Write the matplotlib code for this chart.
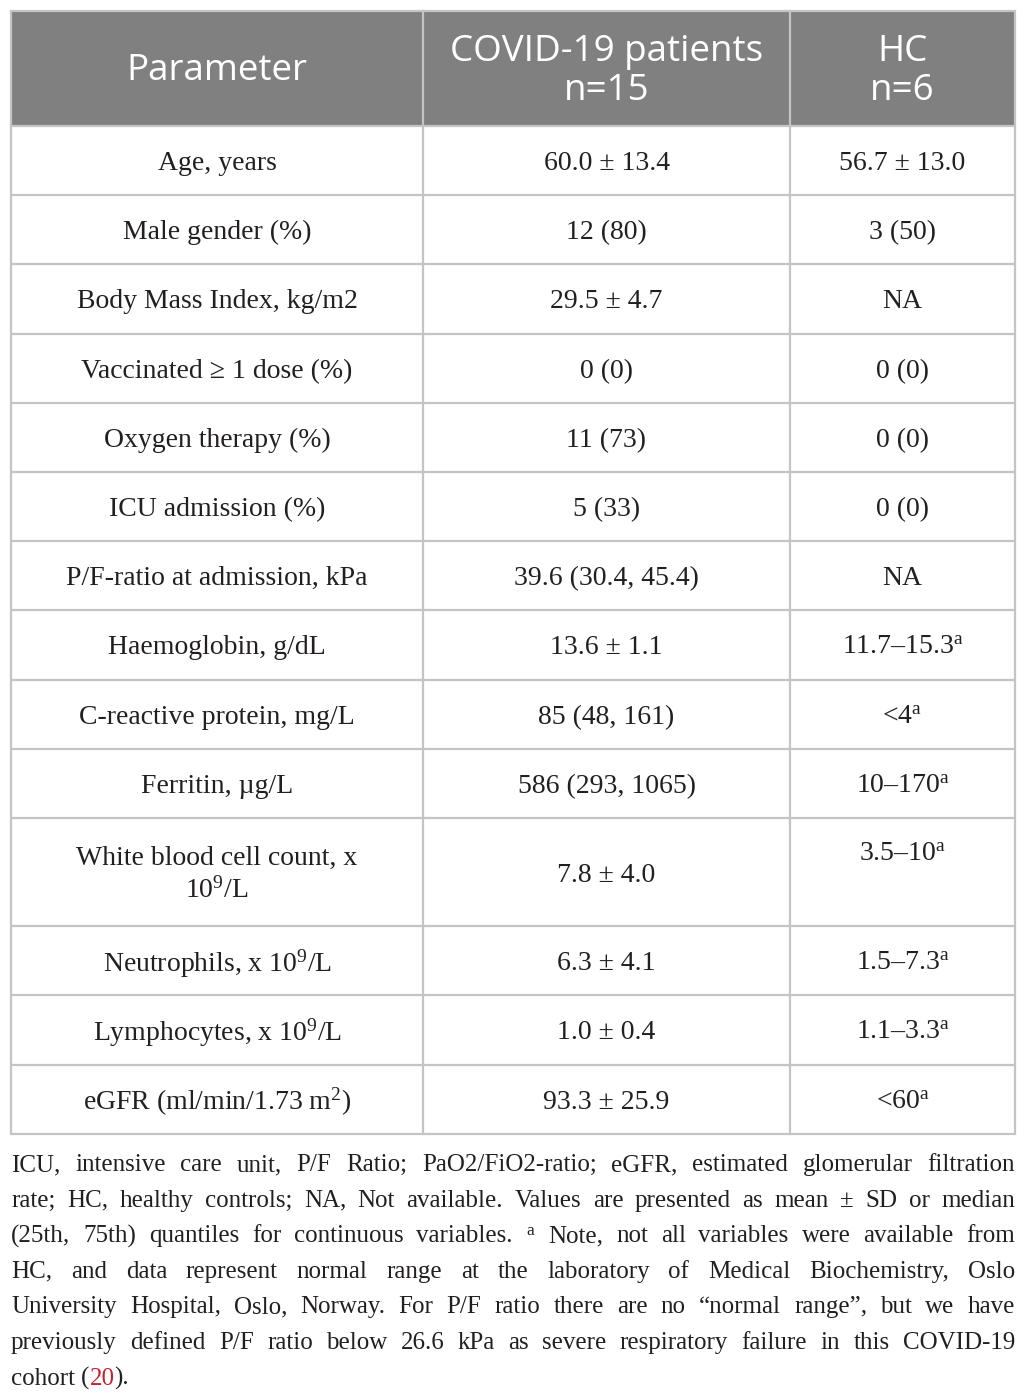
import matplotlib
matplotlib.use("Agg")
import matplotlib.pyplot as plt
from matplotlib.patches import Rectangle

plt.rcParams['mathtext.fontset'] = 'custom'
plt.rcParams['mathtext.rm'] = 'Liberation Serif'
plt.rcParams['mathtext.it'] = 'Liberation Serif:italic'

# table content
header = ["Parameter", "COVID-19 patients\nn=15", "HC\nn=6"]
parameters = [
    "Age, years", "Male gender (%)", "Body Mass Index, kg/m2",
    "Vaccinated ≥ 1 dose (%)", "Oxygen therapy (%)", "ICU admission (%)",
    "P/F-ratio at admission, kPa", "Haemoglobin, g/dL",
    "C-reactive protein, mg/L", "Ferritin, µg/L",
    "White blood cell count, x\n10$^{9}$/L", "Neutrophils, x 10$^{9}$/L",
    "Lymphocytes, x 10$^{9}$/L", "eGFR (ml/min/1.73 m$^{2}$)",
]
covid = [
    "60.0 ± 13.4", "12 (80)", "29.5 ± 4.7", "0 (0)", "11 (73)", "5 (33)",
    "39.6 (30.4, 45.4)", "13.6 ± 1.1", "85 (48, 161)", "586 (293, 1065)",
    "7.8 ± 4.0", "6.3 ± 4.1", "1.0 ± 0.4", "93.3 ± 25.9",
]
hc = [
    "56.7 ± 13.0", "3 (50)", "NA", "0 (0)", "0 (0)", "0 (0)", "NA",
    "11.7–15.3$^{\\mathrm{a}}$", "<4$^{\\mathrm{a}}$", "10–170$^{\\mathrm{a}}$",
    "3.5–10$^{\\mathrm{a}}$", "1.5–7.3$^{\\mathrm{a}}$", "1.1–3.3$^{\\mathrm{a}}$",
    "<60$^{\\mathrm{a}}$",
]
footnote_lines = [
    "ICU, intensive care unit, P/F Ratio; PaO2/FiO2-ratio; eGFR, estimated glomerular filtration",
    "rate; HC, healthy controls; NA, Not available. Values are presented as mean ± SD or median",
    "(25th, 75th) quantiles for continuous variables. $^{\\mathrm{a}}$ Note, not all variables were available from",
    "HC, and data represent normal range at the laboratory of Medical Biochemistry, Oslo",
    "University Hospital, Oslo, Norway. For P/F ratio there are no “normal range”, but we have",
    "previously defined P/F ratio below 26.6 kPa as severe respiratory failure in this COVID-19",
    "cohort (20).",
]

W, H = 1026, 1398
fig = plt.figure(figsize=(W / 100, H / 100), dpi=100)
ax = fig.add_axes([0, 0, 1, 1])
ax.set_xlim(0, W)
ax.set_ylim(H, 0)
ax.axis('off')

left, right = 11, 1015
col_x = [left, 423, 790, right]
row_h = [115] + [69.2] * 10 + [108] + [69.33] * 3
edges = [11]
for h in row_h:
    edges.append(edges[-1] + h)

grid_col = '#c4c4c4'
text_col = '#231f20'
serif = 'Liberation Serif'

# header
ax.add_patch(Rectangle((left, edges[0]), right - left, row_h[0], color='#808080', lw=0))
for j, txt in enumerate(header):
    cx = (col_x[j] + col_x[j + 1]) / 2
    ax.text(cx, edges[0] + row_h[0] / 2 + 3, txt, ha='center', va='center', color='white',
            fontsize=26.5, family='Open Sans', linespacing=1.12, ma='center')

# body rows
for i in range(len(parameters)):
    top, bot = edges[i + 1], edges[i + 2]
    cy = (top + bot) / 2 + 3
    cells = [parameters[i], covid[i], hc[i]]
    for j, txt in enumerate(cells):
        cx = (col_x[j] + col_x[j + 1]) / 2
        y = cy
        if i == 10 and j == 2:
            y = top + 36
        ax.text(cx, y, txt, ha='center', va='center', color=text_col,
                fontsize=20, family=serif, linespacing=1.3)

# grid lines
for y in edges[1:-1]:
    ax.plot([left, right], [y, y], color=grid_col, lw=1.6, solid_capstyle='butt')
for x in col_x[1:-1]:
    ax.plot([x, x], [edges[0], edges[-1]], color=grid_col, lw=1.6)
ax.add_patch(Rectangle((left, edges[0]), right - left, edges[-1] - edges[0],
                       fill=False, ec=grid_col, lw=1.6))

# footnote, justified
renderer = fig.canvas.get_renderer()


def width_of(s, size):
    t = ax.text(0, 0, s, fontsize=size, family=serif)
    w = t.get_window_extent(renderer).width
    t.remove()
    return w


fsize = 18
while True:
    widest = max(width_of(l, fsize) for l in footnote_lines)
    if widest <= (right - left) - 4:
        break
    fsize -= 0.25

base0, step = 1171, 35.6
for k, line in enumerate(footnote_lines):
    y = base0 + k * step
    words = line.split(' ')
    widths = [width_of(w, fsize) for w in words]
    if k == len(footnote_lines) - 1:
        gap = width_of('a b', fsize) - width_of('ab', fsize)
    else:
        gap = ((right - left) - sum(widths)) / (len(words) - 1)
    x = left
    for w, wd in zip(words, widths):
        if w == '(20).':
            parts = [('(', text_col), ('20', '#c8202f'), (').', text_col)]
            px = x
            for p, c in parts:
                ax.text(px, y, p, fontsize=fsize, family=serif, color=c, va='baseline')
                px += width_of(p, fsize)
        else:
            ax.text(x, y, w, fontsize=fsize, family=serif, color=text_col, va='baseline')
        x += wd + gap

fig.savefig('out.png', dpi=100)
